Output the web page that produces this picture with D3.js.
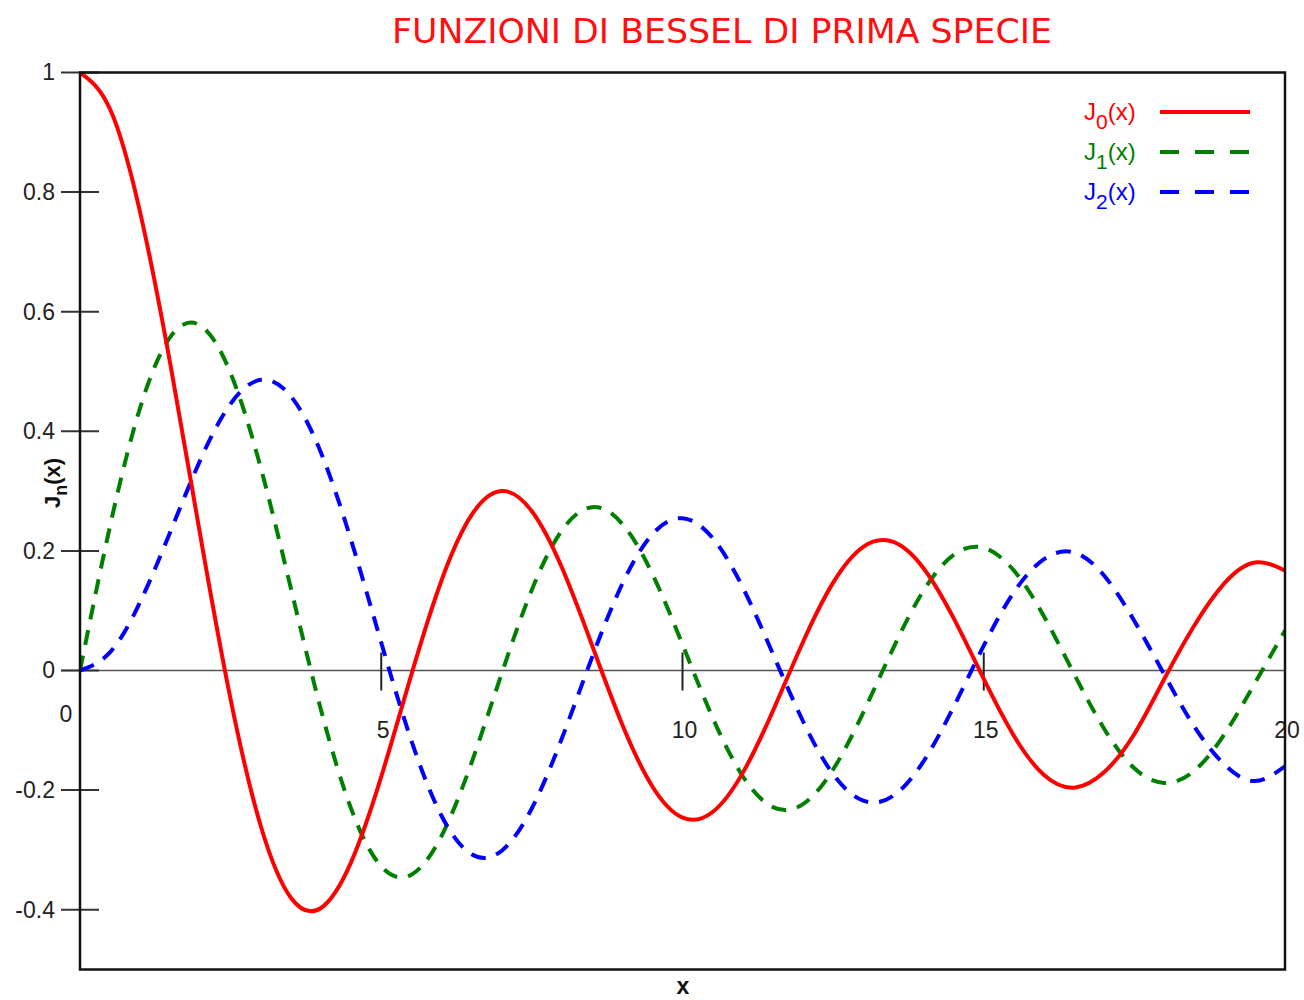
<!DOCTYPE html>
<html>
<head>
<meta charset="utf-8">
<script src="https://cdn.jsdelivr.net/npm/d3@7"></script>
<style>
  body { margin: 0; background: #fff; }
  text { font-family: "Liberation Sans", Arial, sans-serif; }
</style>
</head>
<body>
<div id="container"></div>
<script>
// Data (x step 0.5 from 0 to 20)
var xs = d3.range(0, 20.001, 0.5);
var j0 = [1, 0.9385, 0.7652, 0.5118, 0.2239, -0.0484, -0.2601, -0.3801, -0.3971, -0.3205,
  -0.1776, -0.0068, 0.1506, 0.2601, 0.3001, 0.2663, 0.1717, 0.0419, -0.0903, -0.1939,
  -0.2459, -0.2366, -0.1712, -0.0677, 0.0477, 0.1469, 0.2069, 0.2150, 0.1711, 0.0875,
  -0.0142, -0.1092, -0.1749, -0.1960, -0.1699, -0.1061, -0.0134, 0.0762, 0.1466, 0.1807, 0.1670];
var j1 = [0, 0.2423, 0.4401, 0.5579, 0.5767, 0.4971, 0.3391, 0.1374, -0.0660, -0.2311,
  -0.3276, -0.3414, -0.2767, -0.1538, -0.0047, 0.1352, 0.2346, 0.2731, 0.2453, 0.1613,
  0.0435, -0.0789, -0.1768, -0.2284, -0.2234, -0.1655, -0.0703, 0.0380, 0.1334, 0.1934,
  0.2051, 0.1672, 0.0904, -0.0058, -0.0977, -0.1636, -0.1880, -0.1672, -0.1057, -0.0211, 0.0668];
var j2 = [0, 0.0306, 0.1149, 0.2321, 0.3528, 0.4461, 0.4861, 0.4586, 0.3641, 0.2178,
  0.0466, -0.1173, -0.2429, -0.3074, -0.3014, -0.2303, -0.1130, 0.0223, 0.1448, 0.2279,
  0.2546, 0.2216, 0.1390, 0.0279, -0.0849, -0.1734, -0.2177, -0.2094, -0.1520, -0.0609,
  0.0416, 0.1308, 0.1862, 0.1973, 0.1584, 0.0827, -0.0075, -0.0946, -0.1578, -0.1849, -0.1603];
var yTicks = [1, 0.8, 0.6, 0.4, 0.2, 0, -0.2, -0.4];
var yTickLabels = ["1", "0.8", "0.6", "0.4", "0.2", "0", "-0.2", "-0.4"];
var xTicks = [5, 10, 15, 20];
var xTickLabels = ["5", "10", "15", "20"];
var seriesNames = ["0", "1", "2"];

var col = {j0: "#ff0000", j1: "#008000", j2: "#0000ff"};
var W = 1304, H = 1000;
var plot = {left: 80, right: 1285, top: 72.5, bottom: 969.5};

var svg = d3.select("#container").append("svg")
    .attr("width", W)
    .attr("height", H);

var x = d3.scaleLinear().domain([0, 20]).range([plot.left, plot.right]);
var y = d3.scaleLinear().domain([-0.5, 1]).range([plot.bottom, plot.top]);

// title
svg.append("text")
    .attr("x", 392)
    .attr("y", 43)
    .attr("textLength", 660)
    .attr("lengthAdjust", "spacingAndGlyphs")
    .style("font-size", "34px")
    .style("font-weight", "normal")
    .style("font-family", "'DejaVu Sans', sans-serif")
    .attr("fill", "#ff1010")
    .text("FUNZIONI DI BESSEL DI PRIMA SPECIE");

// clip
svg.append("defs").append("clipPath")
    .attr("id", "clip")
    .append("rect")
    .attr("x", plot.left)
    .attr("y", plot.top)
    .attr("width", plot.right - plot.left)
    .attr("height", plot.bottom - plot.top);

// zero line
svg.append("line")
    .attr("x1", 61).attr("x2", plot.right)
    .attr("y1", y(0)).attr("y2", y(0))
    .attr("stroke", "#555")
    .attr("stroke-width", 1.5);

// y ticks (crossing the axis) and labels
var yAxis = svg.append("g")
    .attr("transform", "translate(" + plot.left + ",0)")
    .call(d3.axisLeft(y).tickValues(yTicks).tickSize(0).tickPadding(25)
        .tickFormat(function(d, i) { return yTickLabels[i]; }));
yAxis.select(".domain").remove();
yAxis.selectAll("text")
    .style("font-size", "23px")
    .style("font-family", "'Liberation Sans', Arial, sans-serif")
    .attr("fill", "#222");
svg.selectAll(".ytick")
    .data(yTicks)
    .enter()
    .append("line")
        .attr("class", "ytick")
        .attr("x1", plot.left - 19)
        .attr("x2", plot.left + 19)
        .attr("y1", function(d) { return y(d); })
        .attr("y2", function(d) { return y(d); })
        .attr("stroke", "#333")
        .attr("stroke-width", 2);

// x ticks on the zero line
svg.selectAll(".xtick")
    .data(xTicks.slice(0, 3))
    .enter()
    .append("line")
        .attr("class", "xtick")
        .attr("x1", function(d) { return x(d); })
        .attr("x2", function(d) { return x(d); })
        .attr("y1", y(0) - 18)
        .attr("y2", y(0) + 20)
        .attr("stroke", "#222")
        .attr("stroke-width", 2);
svg.selectAll(".xlab")
    .data(xTicks)
    .enter()
    .append("text")
        .attr("class", "xlab")
        .attr("x", function(d) { return x(d) + 2; })
        .attr("y", 738)
        .attr("text-anchor", "middle")
        .style("font-size", "23px")
        .attr("fill", "#222")
        .text(function(d, i) { return xTickLabels[i]; });
svg.append("text")
    .attr("x", 66)
    .attr("y", 722)
    .attr("text-anchor", "middle")
    .style("font-size", "23px")
    .attr("fill", "#222")
    .text("0");

// curves
var line = d3.line()
    .x(function(d) { return x(d[0]); })
    .y(function(d) { return y(d[1]); })
    .curve(d3.curveNatural);

var curves = svg.append("g").attr("clip-path", "url(#clip)");
curves.append("path")
    .datum(d3.zip(xs, j1))
    .attr("d", line)
    .attr("fill", "none")
    .attr("stroke", col.j1)
    .attr("stroke-width", 4)
    .attr("stroke-dasharray", "15,11");
curves.append("path")
    .datum(d3.zip(xs, j2))
    .attr("d", line)
    .attr("fill", "none")
    .attr("stroke", col.j2)
    .attr("stroke-width", 4)
    .attr("stroke-dasharray", "15,11");
curves.append("path")
    .datum(d3.zip(xs, j0))
    .attr("d", line)
    .attr("fill", "none")
    .attr("stroke", col.j0)
    .attr("stroke-width", 4);

// frame
svg.append("rect")
    .attr("x", plot.left)
    .attr("y", plot.top)
    .attr("width", plot.right - plot.left)
    .attr("height", plot.bottom - plot.top)
    .attr("fill", "none")
    .attr("stroke", "#111")
    .attr("stroke-width", 2.5);

// legend
var legCols = [col.j0, col.j1, col.j2];
seriesNames.forEach(function(n, i) {
    var ly = 112 + i * 40;
    var t = svg.append("text")
        .attr("x", 1084)
        .attr("y", ly + 8)
        .style("font-size", "24px")
        .attr("fill", legCols[i]);
    t.append("tspan").text("J");
    t.append("tspan").attr("dy", 9).style("font-size", "21px").text(n);
    t.append("tspan").attr("dy", -9).text("(x)");
    svg.append("line")
        .attr("x1", 1160).attr("x2", 1250)
        .attr("y1", ly).attr("y2", ly)
        .attr("stroke", legCols[i])
        .attr("stroke-width", 4)
        .attr("stroke-dasharray", i === 0 ? null : "19,16");
});

// axis labels
svg.append("text")
    .attr("x", 683)
    .attr("y", 994)
    .attr("text-anchor", "middle")
    .style("font-size", "23px")
    .style("font-weight", "bold")
    .attr("fill", "#111")
    .text("x");
var yl = svg.append("text")
    .attr("transform", "translate(60,483) rotate(-90)")
    .attr("text-anchor", "middle")
    .style("font-size", "22px")
    .style("font-weight", "bold")
    .attr("fill", "#111");
yl.append("tspan").text("J");
yl.append("tspan").attr("dy", 7).style("font-size", "18px").text("n");
yl.append("tspan").attr("dy", -7).text("(x)");
</script>
</body>
</html>
